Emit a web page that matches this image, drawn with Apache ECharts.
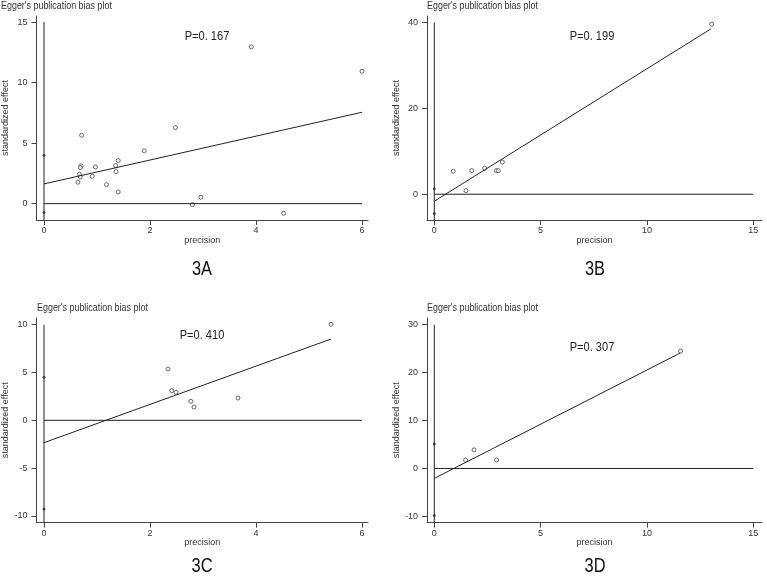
<!DOCTYPE html>
<html>
<head>
<meta charset="utf-8">
<style type="text/css">
html, body {margin: 0; padding: 0; background: #fff;}
#chart {width: 767px; height: 578px;}
</style>
</head>
<body>
<div id="chart"></div>
<script src="https://cdn.jsdelivr.net/npm/echarts@6/dist/echarts.min.js"></script>
<script type="text/javascript">
// 3A
var precA = [3.91, 6.0, 2.48, 0.71, 1.89, 1.40, 1.35, 1.36, 0.97, 0.70, 0.685, 0.67, 0.685, 0.91, 0.64, 1.18, 1.40, 2.96, 2.80, 4.52];
var effA  = [12.95, 10.94, 6.28, 5.65, 4.36, 3.56, 3.14, 2.65, 3.03, 3.12, 2.98, 2.43, 2.2, 2.26, 1.77, 1.57, 0.97, 0.53, -0.08, -0.79];
var ciA   = [4.0, -0.74];
var fitA  = [[0, 1.63], [6.0, 7.55]];
var xTicksA = [0, 2, 4, 6];
var yTicksA = [0, 5, 10, 15];

// 3B
var precB = [13.04, 0.89, 1.76, 2.37, 2.92, 3.01, 3.2, 1.49];
var effB  = [39.6, 5.35, 5.5, 6.05, 5.5, 5.5, 7.5, 0.84];
var ciB   = [1.3, -4.5];
var fitB  = [[0, -1.63], [13.01, 38.5]];
var xTicksB = [0, 5, 10, 15];
var yTicksB = [0, 20, 40];

// 3C
var precC = [5.415, 2.34, 2.41, 2.49, 2.77, 2.83, 3.66];
var effC  = [10.04, 5.37, 3.1, 2.93, 1.99, 1.39, 2.33];
var ciC   = [4.5, -9.28];
var fitC  = [[0, -2.34], [5.415, 8.5]];
var xTicksC = [0, 2, 4, 6];
var yTicksC = [-10, -5, 0, 5, 10];

// 3D
var precD = [11.58, 1.47, 1.87, 2.93];
var effD  = [24.5, 1.73, 3.88, 1.8];
var ciD   = [5.1, -9.8];
var fitD  = [[0, -2.08], [11.57, 24.1]];
var xTicksD = [0, 5, 10, 15];
var yTicksD = [-10, 0, 10, 20, 30];

var pLabels = ['P=0. 167', 'P=0. 199', 'P=0. 410', 'P=0. 307'];
var panelNames = ['3A', '3B', '3C', '3D'];

var font = '"Liberation Sans", Arial, sans-serif';
var axisColor = '#444';
var textColor = '#333';

var panels = [
    {x: precA, y: effA, ci: ciA, fit: fitA, xt: xTicksA, yt: yTicksA, xr: [-0.1415, 6.113], yr: [-1.35, 15.5],
     grid: {left: 36.5, top: 16, width: 331.5, height: 204}},
    {x: precB, y: effB, ci: ciB, fit: fitB, xt: xTicksB, yt: yTicksB, xr: [-0.343, 15.41], yr: [-6, 41.5],
     grid: {left: 427, top: 16, width: 335, height: 204}},
    {x: precC, y: effC, ci: ciC, fit: fitC, xt: xTicksC, yt: yTicksC, xr: [-0.1415, 6.113], yr: [-10.7, 10.7],
     grid: {left: 36.5, top: 318, width: 331.5, height: 204.6}},
    {x: precD, y: effD, ci: ciD, fit: fitD, xt: xTicksD, yt: yTicksD, xr: [-0.343, 15.41], yr: [-11.3, 31.4],
     grid: {left: 427, top: 318, width: 335, height: 204.6}}
];

var grids = [], xAxes = [], yAxes = [], series = [];

panels.forEach(function (p, i) {
    p.grid.outerBoundsMode = 'none';
    p.grid.containLabel = false;
    grids.push(p.grid);
    xAxes.push({
        type: 'value', gridIndex: i, min: p.xr[0], max: p.xr[1],
        name: 'precision', nameLocation: 'middle', nameGap: 15,
        nameTextStyle: {fontFamily: font, fontSize: 9, color: textColor},
        axisLine: {show: true, onZero: false, lineStyle: {color: axisColor, width: 1}},
        axisTick: {show: true, inside: false, length: 5, customValues: p.xt, lineStyle: {color: axisColor}},
        axisLabel: {customValues: p.xt, margin: 6, fontFamily: font, fontSize: 9, color: textColor},
        splitLine: {show: false}
    });
    yAxes.push({
        type: 'value', gridIndex: i, min: p.yr[0], max: p.yr[1],
        name: 'standardized effect', nameLocation: 'middle', nameGap: 26,
        nameTextStyle: {fontFamily: font, fontSize: 9, color: textColor},
        axisLine: {show: true, onZero: false, lineStyle: {color: axisColor, width: 1}},
        axisTick: {show: true, inside: false, length: 5, customValues: p.yt, lineStyle: {color: axisColor}},
        axisLabel: {customValues: p.yt, margin: 9, fontFamily: font, fontSize: 9, color: textColor},
        splitLine: {show: false}
    });

    var topTick = p.yt[p.yt.length - 1];
    var lastX = p.xt[p.xt.length - 1];
    // reference lines x=0 and y=0
    series.push({
        type: 'line', xAxisIndex: i, yAxisIndex: i, symbol: 'none', silent: true,
        lineStyle: {color: '#222', width: 1},
        data: [[0, p.yr[0]], [0, topTick]]
    });
    series.push({
        type: 'line', xAxisIndex: i, yAxisIndex: i, symbol: 'none', silent: true,
        lineStyle: {color: '#222', width: 1},
        data: [[0, 0], [lastX, 0]]
    });
    // fitted regression line
    series.push({
        type: 'line', xAxisIndex: i, yAxisIndex: i, symbol: 'none',
        lineStyle: {color: '#222', width: 1},
        data: p.fit
    });
    // studies
    series.push({
        type: 'scatter', xAxisIndex: i, yAxisIndex: i, symbol: 'circle', symbolSize: 4,
        itemStyle: {color: '#fff', borderColor: '#444', borderWidth: 1},
        data: p.x.map(function (v, k) { return [v, p.y[k]]; })
    });
    // intercept CI ends
    series.push({
        type: 'scatter', xAxisIndex: i, yAxisIndex: i, symbol: 'circle', symbolSize: 3,
        itemStyle: {color: '#333'},
        data: p.ci.map(function (v) { return [0, v]; })
    });
});

var titlePos = [[1, 6], [427, 6], [37, 308], [427, 308]];
var pPos = [[207, 36], [592, 36], [202, 335], [592, 347]];
var namePos = [[202, 269], [595, 269], [202, 566], [595, 566]];
var graphic = [];
for (var i = 0; i < 4; i++) {
    graphic.push({type: 'text', x: titlePos[i][0], y: titlePos[i][1], scaleX: 0.85,
        style: {text: "Egger's publication bias plot", font: '10.5px ' + font, fill: textColor, verticalAlign: 'middle'}});
    graphic.push({type: 'text', x: pPos[i][0], y: pPos[i][1], scaleX: 0.85,
        style: {text: pLabels[i], font: '13px ' + font, fill: '#222', align: 'center', verticalAlign: 'middle'}});
    graphic.push({type: 'text', x: namePos[i][0], y: namePos[i][1], scaleX: 0.82,
        style: {text: panelNames[i], font: '20px ' + font, fill: '#111', align: 'center', verticalAlign: 'middle'}});
}

var chart = echarts.init(document.getElementById('chart'));
chart.setOption({
    backgroundColor: '#fff',
    animation: false,
    grid: grids,
    xAxis: xAxes,
    yAxis: yAxes,
    series: series,
    graphic: graphic
});
</script>
</body>
</html>
